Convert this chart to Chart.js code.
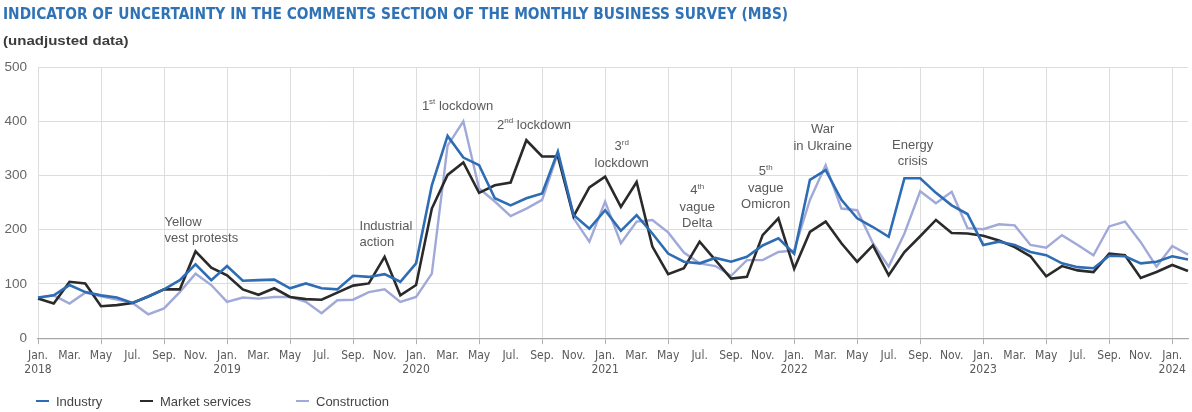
<!DOCTYPE html>
<html>
<head>
<meta charset="utf-8">
<title>MBS uncertainty indicator</title>
<script src="https://cdn.jsdelivr.net/npm/chart.js@4.4.1/dist/chart.umd.min.js"></script>
<style>
  html, body { margin: 0; padding: 0; background: #fff; }
  #page { position: relative; width: 1192px; height: 412px; overflow: hidden; }
  #title { position: absolute; left: 3px; top: 4px; font: bold 16px "Liberation Sans Narrow", "DejaVu Sans Condensed", sans-serif; color: #2f72b5; white-space: nowrap; transform-origin: 0 0; }
  #subtitle { position: absolute; left: 3px; top: 33px; font: bold 13px "Liberation Sans", Arial, sans-serif; color: #3c3c3c; white-space: nowrap; transform-origin: 0 0; }
  #mainPlot { position: absolute; left: 0; top: 0; }
  #legend { position: absolute; left: 0; top: 392px; width: 1192px; height: 18px; font: 13px "Liberation Sans", Arial, sans-serif; color: #444; }
  .item { position: absolute; top: 0; white-space: nowrap; display: flex; align-items: center; height: 18px; }
  .swatch { display: inline-block; width: 13px; height: 2.5px; margin-right: 7px; }
</style>
</head>
<body>
<div id="page">
  <canvas id="mainPlot" width="1192" height="412"></canvas>
  <div id="title">INDICATOR OF UNCERTAINTY IN THE COMMENTS SECTION OF THE MONTHLY BUSINESS SURVEY (MBS)</div>
  <div id="subtitle">(unadjusted data)</div>
  <div id="legend"></div>
</div>
<script>
// month names and years for the category axis
const monthNames = ["Jan.", "Feb.", "Mar.", "Apr.", "May", "Jun.", "Jul.", "Aug.", "Sep.", "Oct.", "Nov.", "Dec."];
const years = [2018, 2019, 2020, 2021, 2022, 2023, 2024];

// monthly values, Jan. 2018 to Feb. 2024
const industry = [
  75, 79, 98, 85, 79, 75, 65, 77, 90, 107, 136, 107,
  133, 106, 107, 108, 92, 101, 92, 90, 115, 113, 118, 104,
  138, 282, 373, 333, 319, 258, 245, 258, 267, 344, 227, 202,
  236, 198, 227, 193, 156, 141, 138, 148, 141, 150, 171, 184,
  156, 292, 310, 255, 221, 205, 187, 295, 295, 268, 245, 229,
  172, 178, 172, 159, 153, 138, 131, 129, 152, 151, 138, 141,
  151, 145
];
const marketServices = [
  73, 64, 104, 101, 59, 61, 65, 77, 90, 90, 160, 130,
  116, 90, 80, 92, 76, 72, 71, 84, 97, 101, 150, 79,
  98, 239, 301, 324, 268, 282, 287, 365, 335, 335, 225, 278,
  298, 242, 288, 169, 118, 129, 178, 144, 110, 113, 190, 221,
  128, 196, 215, 175, 141, 171, 116, 159, 188, 218, 194, 193,
  189, 180, 168, 151, 114, 133, 125, 122, 156, 153, 111, 122,
  135, 124
];
const construction = [
  74, 79, 64, 84, 77, 71, 65, 44, 55, 85, 119, 98,
  67, 75, 73, 76, 76, 67, 46, 70, 71, 85, 90, 67,
  76, 119, 355, 400, 276, 252, 225, 239, 255, 341, 221, 178,
  252, 175, 215, 218, 195, 158, 138, 133, 115, 144, 144, 159,
  162, 255, 319, 239, 236, 175, 132, 193, 271, 249, 270, 203,
  201, 210, 208, 172, 167, 190, 172, 153, 206, 215, 177, 132,
  170, 154
];

const seriesNames = ["Industry", "Market services", "Construction"];
const seriesColors = ["#2e6cb4", "#2a2a2a", "#a0a9d7"];
const legendLeft = [36, 140, 296];

// event notes: text ({..} = superscript), month index, value of first line, alignment
const noteText = ["Yellow\nvest protests", "Industrial\naction", "1{st} lockdown", "2{nd} lockdown",
  "3{rd}\nlockdown", "4{th}\nvague\nDelta", "5{th}\nvague\nOmicron", "War\nin Ukraine", "Energy\ncrisis"];
const noteMonth = [8.03, 20.41, 26.63, 31.49, 37.05, 41.85, 46.19, 49.81, 55.52];
const noteValue = [214, 207, 428, 393, 353, 272, 307, 384, 356];
const noteAlign = ["left", "left", "center", "center", "center", "center", "center", "center", "center"];

const labels = industry.map((v, i) => monthNames[i % 12] + " " + years[Math.floor(i / 12)]);
const gridColor = "#dddddd";
const noteFont = "13px 'Liberation Sans', Arial, sans-serif";
const supFont = "8px 'Liberation Sans', Arial, sans-serif";

// fit title texts to the width they take in the original
function fitWidth(el, target) {
  el.style.transform = "scaleX(" + (target / el.scrollWidth) + ")";
}
fitWidth(document.getElementById("title"), 785);
fitWidth(document.getElementById("subtitle"), 125);

// legend
const legendDiv = document.getElementById("legend");
seriesNames.forEach((name, i) => {
  const item = document.createElement("div");
  item.className = "item";
  item.style.left = legendLeft[i] + "px";
  item.innerHTML = '<span class="swatch" style="background:' + seriesColors[i] + '"></span>' + name;
  legendDiv.appendChild(item);
});

// one line of note text, with optional superscript parts
function drawNoteLine(ctx, line, x, y, align) {
  const parts = line.split(/\{([^}]*)\}/);
  let width = 0;
  parts.forEach((p, i) => {
    ctx.font = i % 2 ? supFont : noteFont;
    width += ctx.measureText(p).width;
  });
  let cx = align === "center" ? x - width / 2 : x;
  parts.forEach((p, i) => {
    ctx.font = i % 2 ? supFont : noteFont;
    ctx.fillText(p, cx, i % 2 ? y - 4 : y);
    cx += ctx.measureText(p).width;
  });
}

const notesPlugin = {
  id: "eventNotes",
  afterDatasetsDraw(chart) {
    const { ctx, scales: { x, y } } = chart;
    ctx.save();
    ctx.fillStyle = "#5a5a5a";
    ctx.textAlign = "left";
    ctx.textBaseline = "middle";
    noteText.forEach((txt, n) => {
      const px = x.getPixelForValue(noteMonth[n]);
      const py = y.getPixelForValue(noteValue[n]);
      txt.split("\n").forEach((line, k) => {
        drawNoteLine(ctx, line, px, py + k * 16.5, noteAlign[n]);
      });
    });
    ctx.restore();
  }
};

const seriesData = [industry, marketServices, construction];

new Chart(document.getElementById("mainPlot"), {
  type: "line",
  data: {
    labels: labels,
    datasets: seriesNames.map((name, i) => ({
      label: name,
      data: seriesData[i],
      borderColor: seriesColors[i],
      backgroundColor: seriesColors[i],
      borderWidth: i === 2 ? 2.4 : 2.6,
      pointRadius: 0,
      tension: 0,
      fill: false
    }))
  },
  options: {
    responsive: false,
    animation: false,
    layout: { padding: { top: 67, left: 3, right: 4, bottom: 31 } },
    plugins: {
      legend: { display: false },
      tooltip: { enabled: false }
    },
    scales: {
      x: {
        border: { color: "#a8a8a8", width: 1.2 },
        grid: {
          color: (c) => (c.index % 2 ? "rgba(0,0,0,0)" : gridColor),
          tickColor: (c) => (c.index % 2 ? "rgba(0,0,0,0)" : "#b0b0b0"),
          tickLength: 6
        },
        ticks: {
          autoSkip: false,
          maxRotation: 0,
          padding: 4,
          color: "#595959",
          font: { family: "'Liberation Sans Narrow', 'DejaVu Sans Condensed', sans-serif", size: 12, lineHeight: 1.2 },
          callback: function (val, index) {
            if (index % 2) return null;
            if (index % 12 === 0) return [monthNames[0], String(years[index / 12])];
            return monthNames[index % 12];
          }
        }
      },
      y: {
        min: 0,
        max: 500,
        afterFit: (scale) => { scale.width = 35; },
        border: { display: false },
        grid: { color: gridColor, drawTicks: false },
        ticks: {
          stepSize: 100,
          padding: 11,
          color: "#666",
          font: { family: "'Liberation Sans', Arial, sans-serif", size: 13.5 }
        }
      }
    }
  },
  plugins: [notesPlugin]
});
</script>
</body>
</html>
